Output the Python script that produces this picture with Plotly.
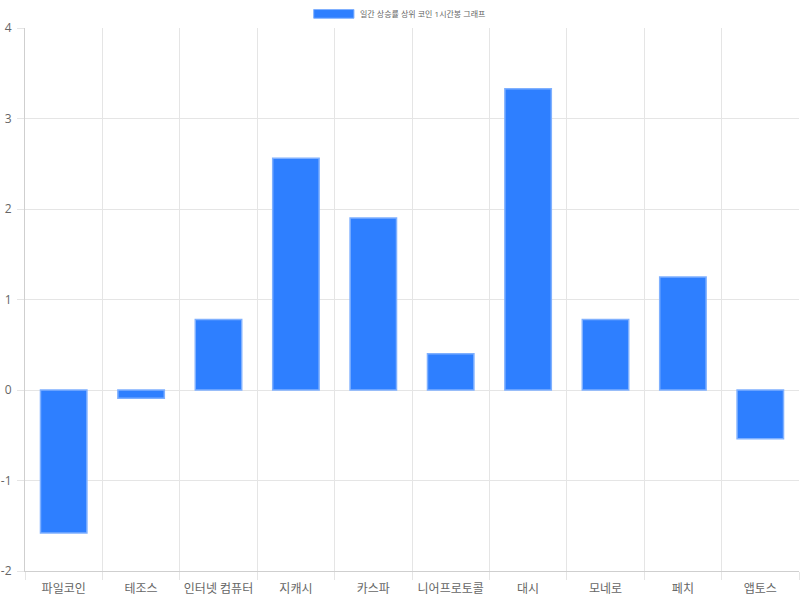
import plotly.graph_objects as go

LEGEND_LABEL = "일간 상승률 상위 코인 1시간봉 그래프"
BAR_COLOR = "#2e7fff"
BAR_BORDER = "#7fb0ff"
GRID_COLOR = "#e5e5e5"
TEXT_COLOR = "#666666"

coins = ["파일코인", "테조스", "인터넷 컴퓨터", "지캐시", "카스파",
         "니어프로토콜", "대시", "모네로", "페치", "앱토스"]
change_pct = [-1.58, -0.09, 0.78, 2.56, 1.90, 0.40, 3.33, 0.78, 1.25, -0.54]
y_ticks = [-2, -1, 0, 1, 2, 3, 4]
y_tick_text = ["-2", "-1", "0", "1", "2", "3", "4"]

fig = go.Figure()
fig.add_trace(
    go.Bar(
        x=coins,
        y=change_pct,
        name=LEGEND_LABEL,
        marker=dict(color=BAR_COLOR, line=dict(color=BAR_BORDER, width=1.5)),
        showlegend=False,
    )
)

# chart.js-like legend: wide colour box + label at top centre
fig.add_shape(type="rect", xref="paper", yref="paper",
              x0=0.373, x1=0.425, y0=1.018, y1=1.034,
              fillcolor=BAR_COLOR, line=dict(color=BAR_BORDER, width=1))
fig.add_annotation(text=LEGEND_LABEL, xref="paper", yref="paper",
                   x=0.43, y=1.026, xanchor="left", yanchor="middle",
                   showarrow=False, font=dict(size=8, color=TEXT_COLOR))

fig.update_layout(
    width=800, height=600,
    margin=dict(l=25, r=1, t=28, b=29),
    plot_bgcolor="white", paper_bgcolor="white",
    font=dict(family="Open Sans, Noto Sans CJK KR, sans-serif", size=12, color=TEXT_COLOR),
    bargap=0.4,
)
fig.update_xaxes(
    showgrid=True, gridcolor=GRID_COLOR, gridwidth=1,
    tickson="boundaries", ticks="outside", ticklen=8, tickcolor=GRID_COLOR,
    showline=True, linecolor="#cfcfcf", linewidth=1,
    tickangle=0, automargin=False, ticklabelstandoff=7,
    tickfont=dict(size=12, color=TEXT_COLOR),
)
fig.update_yaxes(
    range=[-2, 4], tickvals=y_ticks, ticktext=y_tick_text,
    showgrid=True, gridcolor=GRID_COLOR, gridwidth=1,
    zeroline=False, automargin=False, ticklabelstandoff=3,
    ticks="outside", ticklen=7, tickcolor=GRID_COLOR,
    showline=True, linecolor="#cfcfcf", linewidth=1,
    tickfont=dict(size=12, color=TEXT_COLOR),
)

# drop the default 8px body margin so the figure fills the window
fig.write_html("out.html", config={"displayModeBar": False},
               post_script="document.body.style.margin='0';")
